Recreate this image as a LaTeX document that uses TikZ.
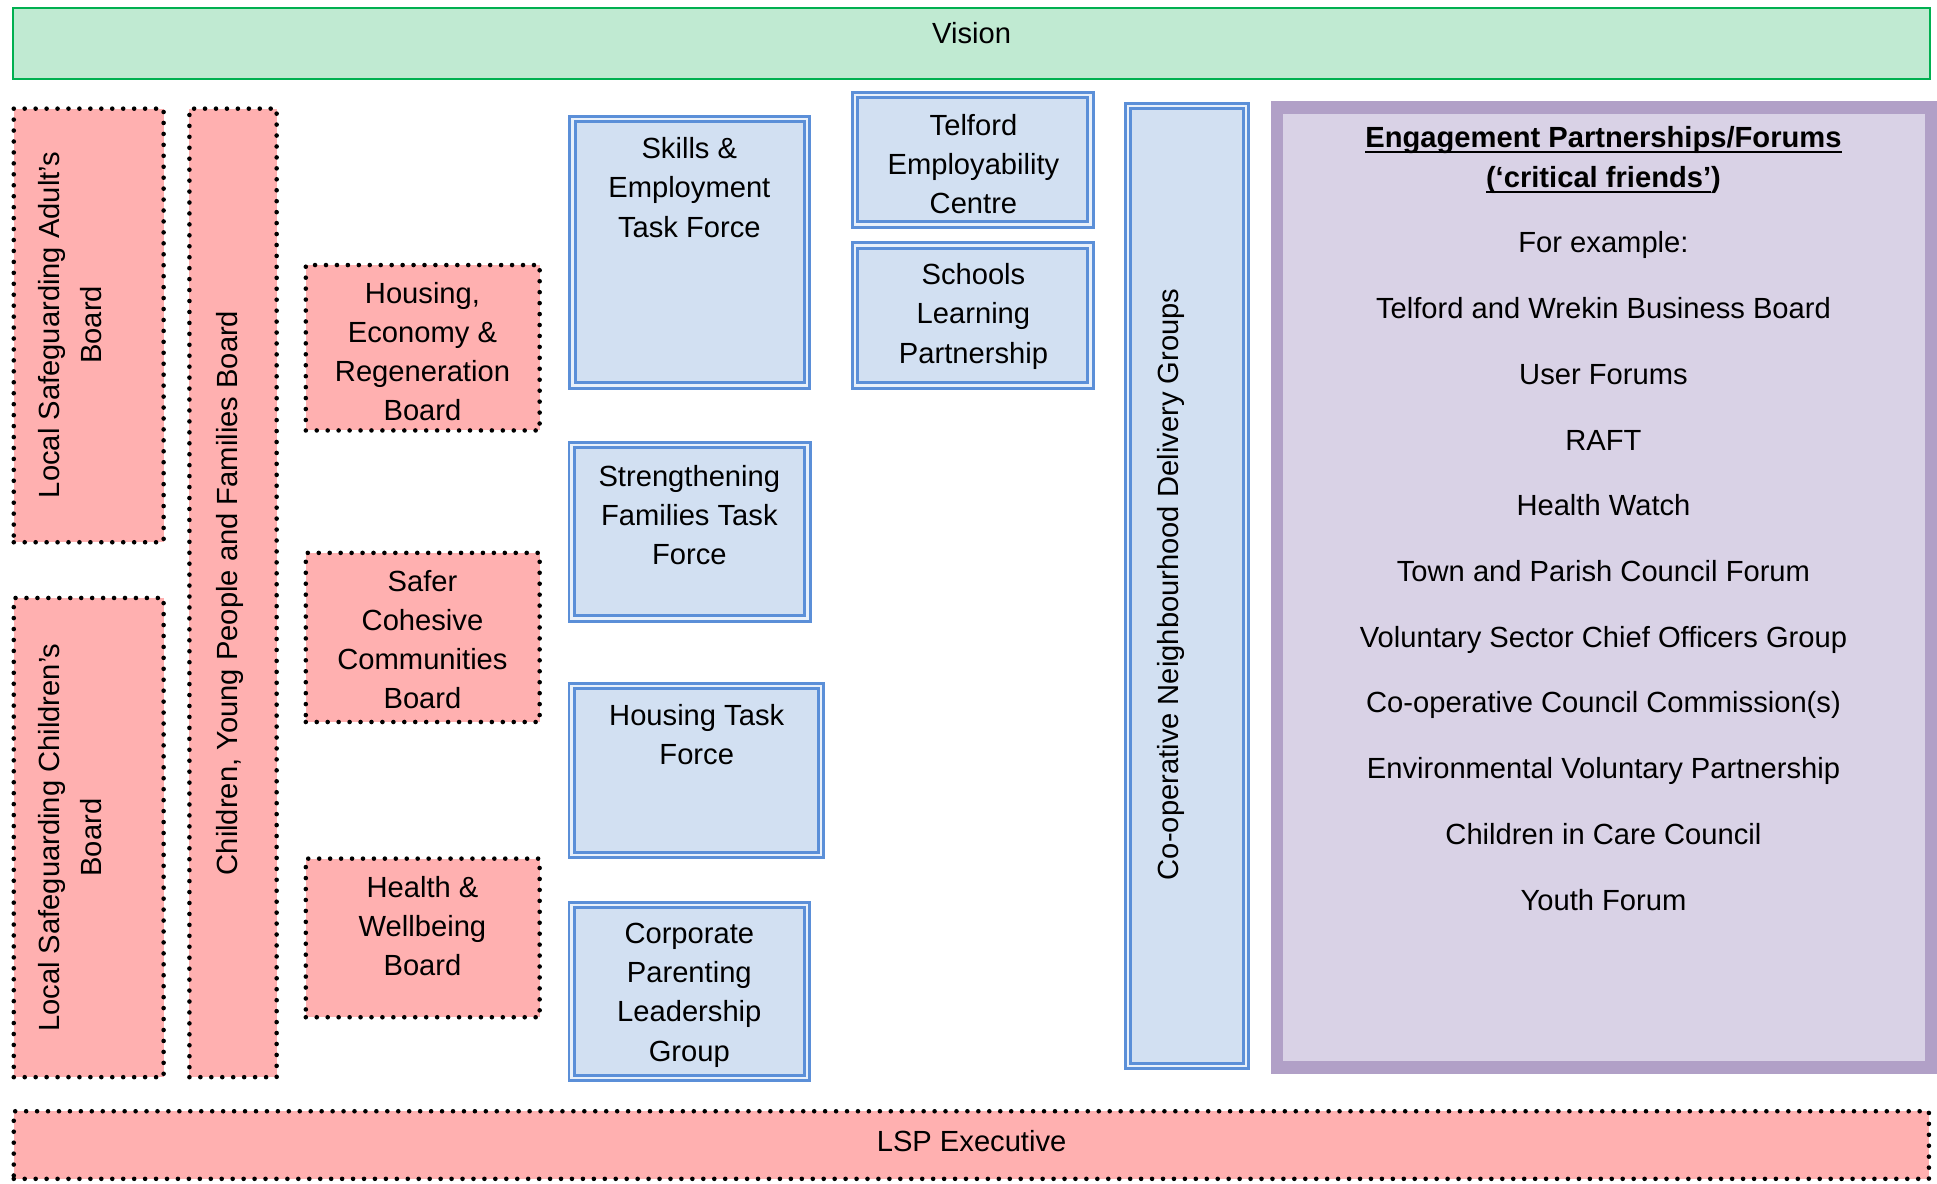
\documentclass[tikz,border=0pt]{standalone}
\usepackage{fontspec}
\setmainfont{Liberation Sans}
\newcommand\myul[1]{\setbox0\hbox{#1}\rlap{\rule[-0.2em]{\wd0}{0.075em}}\box0}
\definecolor{visgreen}{HTML}{00B050}
\definecolor{visfill}{HTML}{C0EAD2}
\definecolor{pinkfill}{HTML}{FFB0B0}
\definecolor{bluefill}{HTML}{D2E0F2}
\definecolor{blueline}{HTML}{5B8FD8}
\definecolor{bluegap}{HTML}{E8F0FA}
\definecolor{purpfill}{HTML}{D9D2E6}
\definecolor{purpline}{HTML}{B1A0C7}
\tikzset{
  boxbase/.style={inner sep=0pt, outer sep=0pt},
  visionbox/.style={boxbase, draw=visgreen, fill=visfill, line width=0.75pt},
  pinkbox/.style={boxbase, fill=pinkfill, draw=black, line width=1.85pt, dash pattern=on 0pt off 4.43pt, line cap=round},
  bluebox/.style={boxbase, fill=bluefill, draw=blueline, double=bluegap, line width=1.2pt, double distance=1.0pt},
  purplebox/.style={boxbase, fill=purpfill, draw=purpline, line width=5pt},
  txt/.style={inner sep=0pt, align=center, font=\fontsize{11.8pt}{15.85pt}\selectfont},
  rtxt/.style={inner sep=0pt, align=center, rotate=90, font=\fontsize{11.8pt}{17pt}\selectfont},
}
\begin{document}
\begin{tikzpicture}[x=0.5pt, y=-0.5pt]
\useasboundingbox (0,0) rectangle (1568,958);
% boxes
\node[visionbox, minimum width=775.95pt, minimum height=28.9pt] (vision) at (786.35,35.1) {};
\node[pinkbox, minimum width=60.65pt, minimum height=175.5pt] (adult) at (71.8,263.45) {};
\node[pinkbox, minimum width=60.65pt, minimum height=193.95pt] (childsafe) at (71.8,678) {};
\node[pinkbox, minimum width=35.3pt, minimum height=392pt] (cypf) at (188.65,479.95) {};
\node[pinkbox, minimum width=94.65pt, minimum height=66.95pt] (housing) at (342.2,281.5) {};
\node[pinkbox, minimum width=94.65pt, minimum height=68.45pt] (safer) at (342.2,516) {};
\node[pinkbox, minimum width=94.65pt, minimum height=64.2pt] (health) at (342.2,759.25) {};
\node[pinkbox, minimum width=775.15pt, minimum height=27.35pt] (lsp) at (786.3,926.9) {};
\node[bluebox, minimum width=94.95pt, minimum height=107.95pt] (skills) at (558.25,204.25) {};
\node[bluebox, minimum width=95.45pt, minimum height=70.2pt] (strength) at (558.25,430.5) {};
\node[bluebox, minimum width=100.95pt, minimum height=68.45pt] (housingtf) at (563.75,623.75) {};
\node[bluebox, minimum width=95.2pt, minimum height=69.95pt] (corporate) at (558,802.75) {};
\node[bluebox, minimum width=95.2pt, minimum height=52.5pt] (telford) at (787.5,129.2) {};
\node[bluebox, minimum width=95.2pt, minimum height=56.7pt] (schools) at (787.5,255.5) {};
\node[bluebox, minimum width=47.9pt, minimum height=388.55pt] (coop) at (960.8,474.15) {};
\node[purplebox, minimum width=264.7pt, minimum height=388.5pt] (engage) at (1298.3,475.5) {};
% texts
\node[txt] (visiont) at (786.5,27) {Vision};
\node[txt] (lspt) at (786.5,923.5) {LSP Executive};
\node[rtxt] (adultt) at (57,263) {Local Safeguarding Adult’s\\Board};
\node[rtxt] (childsafet) at (57,678) {Local Safeguarding Children’s\\Board};
\node[rtxt] (cypft) at (186.5,480) {Children, Young People and Families Board};
\node[rtxt] (coopt) at (948,473) {Co-operative Neighbourhood Delivery Groups};
\node[txt, anchor=north] (housingt) at (342,228) {Housing,\\Economy \&\\Regeneration\\Board};
\node[txt, anchor=north] (safert) at (342,461) {Safer\\Cohesive\\Communities\\Board};
\node[txt, anchor=north] (healtht) at (342,709) {Health \&\\Wellbeing\\Board};
\node[txt, anchor=north] (skillst) at (558,111) {Skills \&\\Employment\\Task Force};
\node[txt, anchor=north] (strengtht) at (558,376) {Strengthening\\Families Task\\Force};
\node[txt, anchor=north] (housingtft) at (564,570) {Housing Task\\Force};
\node[txt, anchor=north] (corporatet) at (558,747) {Corporate\\Parenting\\Leadership\\Group};
\node[txt, anchor=north] (telfordt) at (788,92) {Telford\\Employability\\Centre};
\node[txt, anchor=north] (schoolst) at (788,213) {Schools\\Learning\\Partnership};
\node[txt, anchor=north, font=\fontsize{11.8pt}{26.6pt}\selectfont] (engaget) at (1298,102)
  {\textbf{\myul{Engagement Partnerships/Forums}}\\[-10.6pt]
   \textbf{\myul{(‘critical friends’})}\\
   For example:\\
   Telford and Wrekin Business Board\\
   User Forums\\
   RAFT\\
   Health Watch\\
   Town and Parish Council Forum\\
   Voluntary Sector Chief Officers Group\\
   Co-operative Council Commission(s)\\
   Environmental Voluntary Partnership\\
   Children in Care Council\\
   Youth Forum};
\end{tikzpicture}
\end{document}
